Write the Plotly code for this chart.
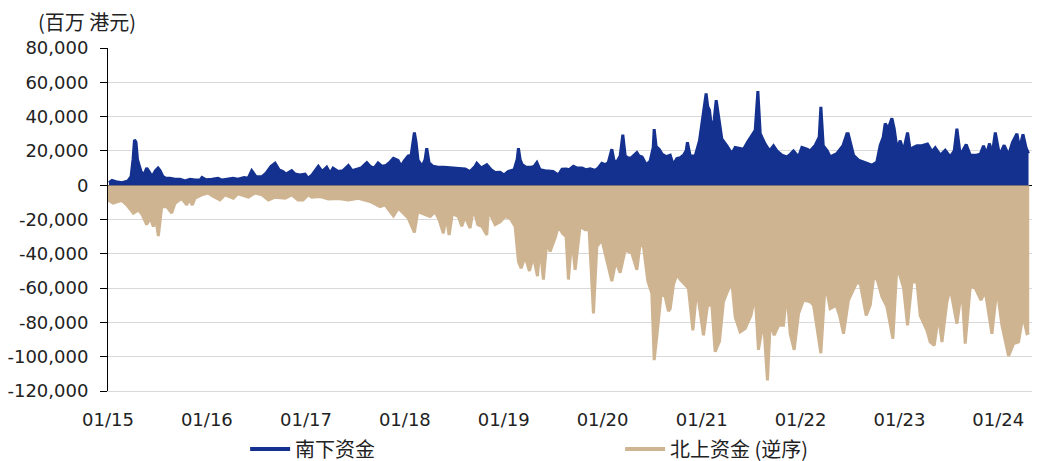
import numpy as np
import pandas as pd
import plotly.graph_objects as go

# ---------------- data (HK$ mn) ----------------
# time stamps as decimal years
south_year = [
    2015.010, 2015.040, 2015.081, 2015.142, 2015.202, 2015.233, 2015.253, 2015.268, 2015.283, 2015.298,
    2015.313, 2015.334, 2015.364, 2015.391, 2015.415, 2015.445, 2015.480, 2015.506, 2015.526, 2015.556,
    2015.586, 2015.627, 2015.677, 2015.728, 2015.779, 2015.829, 2015.880, 2015.930, 2015.950, 2015.991,
    2016.052, 2016.112, 2016.153, 2016.213, 2016.264, 2016.314, 2016.375, 2016.416, 2016.453, 2016.496,
    2016.557, 2016.598, 2016.648, 2016.689, 2016.729, 2016.769, 2016.800, 2016.857, 2016.891, 2016.941,
    2016.992, 2017.022, 2017.063, 2017.126, 2017.164, 2017.211, 2017.245, 2017.275, 2017.326, 2017.376,
    2017.430, 2017.467, 2017.508, 2017.558, 2017.616, 2017.649, 2017.690, 2017.730, 2017.770, 2017.811,
    2017.851, 2017.885, 2017.932, 2017.963, 2017.993, 2018.033, 2018.064, 2018.084, 2018.097, 2018.114,
    2018.134, 2018.175, 2018.205, 2018.222, 2018.246, 2018.286, 2018.337, 2018.397, 2018.475, 2018.539,
    2018.610, 2018.660, 2018.711, 2018.728, 2018.772, 2018.829, 2018.873, 2018.913, 2018.964, 2019.004,
    2019.044, 2019.105, 2019.136, 2019.149, 2019.166, 2019.186, 2019.226, 2019.277, 2019.307, 2019.335,
    2019.368, 2019.419, 2019.469, 2019.499, 2019.553, 2019.590, 2019.631, 2019.661, 2019.705, 2019.742,
    2019.793, 2019.833, 2019.874, 2019.924, 2019.954, 2019.992, 2020.025, 2020.056, 2020.093, 2020.116,
    2020.147, 2020.177, 2020.204, 2020.228, 2020.258, 2020.288, 2020.346, 2020.369, 2020.399, 2020.440,
    2020.480, 2020.511, 2020.521, 2020.541, 2020.571, 2020.602, 2020.642, 2020.683, 2020.713, 2020.750,
    2020.784, 2020.817, 2020.844, 2020.857, 2020.885, 2020.935, 2020.979, 2021.013, 2021.031, 2021.046,
    2021.062, 2021.080, 2021.104, 2021.127, 2021.148, 2021.181, 2021.205, 2021.256, 2021.306, 2021.340,
    2021.380, 2021.424, 2021.464, 2021.509, 2021.542, 2021.569, 2021.593, 2021.643, 2021.687, 2021.727,
    2021.761, 2021.812, 2021.862, 2021.896, 2021.929, 2021.980, 2022.014, 2022.065, 2022.098, 2022.149,
    2022.189, 2022.206, 2022.230, 2022.270, 2022.300, 2022.368, 2022.429, 2022.469, 2022.482, 2022.536,
    2022.586, 2022.654, 2022.722, 2022.772, 2022.806, 2022.836, 2022.856, 2022.887, 2022.924, 2022.947,
    2022.975, 2023.008, 2023.041, 2023.082, 2023.109, 2023.139, 2023.177, 2023.227, 2023.284, 2023.329,
    2023.362, 2023.413, 2023.463, 2023.514, 2023.554, 2023.581, 2023.615, 2023.675, 2023.716, 2023.777,
    2023.817, 2023.850, 2023.878, 2023.911, 2023.938, 2023.969, 2024.012, 2024.059, 2024.103, 2024.143,
    2024.188, 2024.214, 2024.249, 2024.282, 2024.305,
]
south_value = [
    1500, 2800, 2000, 1500, 2500, 5000, 15000, 26500, 25000, 15000,
    12000, 8000, 6000, 10000, 8000, 5000, 8500, 10000, 8500, 5000,
    4000, 4000, 3500, 3500, 2500, 3500, 3000, 3000, 4500, 3200,
    3500, 4000, 3000, 3500, 4000, 3500, 4500, 4000, 8500, 5000,
    5000, 7000, 11000, 12800, 9000, 8000, 6500, 8500, 6500, 6000,
    6500, 4000, 6000, 11000, 8000, 10500, 7000, 10000, 8000, 8500,
    11500, 8500, 9000, 10000, 13200, 11000, 10000, 13000, 11000, 11500,
    13500, 15700, 14500, 11000, 14000, 17000, 17500, 25000, 30700, 25000,
    14600, 11000, 15000, 21600, 13000, 11000, 10500, 10500, 10000, 9800,
    9500, 8000, 11000, 12800, 10000, 11900, 9000, 7400, 7500, 6000,
    8000, 9000, 15000, 21600, 15000, 12000, 10500, 10500, 11000, 13200,
    9000, 8500, 8300, 8000, 6000, 9300, 9500, 9000, 11000, 10000,
    10000, 9000, 9500, 8600, 10000, 12800, 12000, 13000, 21000, 14000,
    14000, 17000, 29400, 17000, 15800, 16000, 19000, 17000, 16500, 11900,
    14000, 22000, 32700, 22500, 21000, 18000, 16700, 17500, 12000, 15500,
    16000, 17500, 20000, 25000, 17000, 17000, 26000, 40000, 47000, 53500,
    46000, 43800, 32000, 38000, 49600, 37000, 27000, 23000, 18500, 22000,
    21500, 21000, 25000, 29000, 32000, 54900, 30000, 24000, 20000, 23000,
    20000, 17500, 16500, 18000, 20000, 16500, 22000, 21000, 20000, 23300,
    28000, 45700, 23000, 20000, 16500, 18500, 23000, 30000, 30000, 17500,
    14600, 13200, 11700, 13600, 23300, 28000, 36000, 33000, 39000, 33000,
    21400, 26000, 20000, 30700, 20400, 22000, 23000, 23000, 24000, 19500,
    21800, 17500, 20400, 16500, 20000, 33000, 17500, 23700, 17500, 17500,
    18000, 23000, 18000, 24300, 18000, 30700, 17500, 23300, 17500, 25000,
    30000, 21400, 29600, 21400, 18500,
]

north_year = [
    2015.000, 2015.051, 2015.101, 2015.142, 2015.189, 2015.222, 2015.256, 2015.306, 2015.344, 2015.391,
    2015.425, 2015.458, 2015.485, 2015.509, 2015.543, 2015.594, 2015.644, 2015.677, 2015.745, 2015.796,
    2015.819, 2015.852, 2015.880, 2015.947, 2016.011, 2016.065, 2016.132, 2016.183, 2016.267, 2016.314,
    2016.419, 2016.486, 2016.557, 2016.621, 2016.689, 2016.790, 2016.857, 2016.921, 2016.972, 2017.025,
    2017.060, 2017.144, 2017.228, 2017.329, 2017.430, 2017.531, 2017.649, 2017.750, 2017.801, 2017.885,
    2017.935, 2018.036, 2018.097, 2018.131, 2018.205, 2018.256, 2018.306, 2018.347, 2018.390, 2018.418,
    2018.448, 2018.481, 2018.542, 2018.576, 2018.610, 2018.660, 2018.694, 2018.738, 2018.779, 2018.829,
    2018.845, 2018.913, 2018.964, 2019.014, 2019.065, 2019.115, 2019.149, 2019.176, 2019.216, 2019.260,
    2019.300, 2019.341, 2019.368, 2019.401, 2019.436, 2019.469, 2019.520, 2019.553, 2019.594, 2019.631,
    2019.654, 2019.689, 2019.722, 2019.772, 2019.823, 2019.863, 2019.907, 2019.941, 2019.992, 2020.042,
    2020.093, 2020.133, 2020.177, 2020.228, 2020.295, 2020.346, 2020.379, 2020.413, 2020.457, 2020.497,
    2020.521, 2020.548, 2020.592, 2020.632, 2020.665, 2020.683, 2020.716, 2020.750, 2020.784, 2020.834,
    2020.867, 2020.912, 2020.952, 2021.019, 2021.060, 2021.104, 2021.137, 2021.181, 2021.221, 2021.262,
    2021.306, 2021.340, 2021.390, 2021.441, 2021.499, 2021.542, 2021.575, 2021.626, 2021.666, 2021.694,
    2021.734, 2021.778, 2021.828, 2021.862, 2021.896, 2021.936, 2021.980, 2022.030, 2022.098, 2022.132,
    2022.206, 2022.250, 2022.300, 2022.361, 2022.395, 2022.435, 2022.485, 2022.570, 2022.604, 2022.664,
    2022.705, 2022.738, 2022.772, 2022.823, 2022.874, 2022.934, 2022.975, 2023.042, 2023.082, 2023.126,
    2023.177, 2023.210, 2023.278, 2023.311, 2023.352, 2023.395, 2023.430, 2023.480, 2023.514, 2023.581,
    2023.631, 2023.665, 2023.716, 2023.766, 2023.824, 2023.868, 2023.935, 2023.986, 2024.036, 2024.103,
    2024.154, 2024.204, 2024.249, 2024.289, 2024.312,
]
# northbound turnover (plotted in reverse order, i.e. below zero)
north_value = [
    8600, 10500, 9500, 9000, 11500, 14000, 16300, 14400, 17000, 23000,
    19000, 24000, 20000, 29600, 12500, 12500, 16300, 10500, 7600, 11500,
    8000, 11500, 7600, 5600, 4600, 6600, 8600, 5600, 7600, 5000,
    7000, 4600, 5600, 8600, 7000, 7600, 5600, 8600, 8600, 5600,
    7000, 6600, 8000, 7800, 8600, 7600, 9500, 12500, 11500, 17900,
    13400, 19300, 27600, 15400, 17300, 18300, 15400, 20200, 28000, 18000,
    29000, 16500, 18300, 24000, 18300, 25000, 13400, 23000, 24000, 29000,
    14600, 23000, 21400, 18300, 19300, 24000, 44500, 48400, 41600, 50000,
    41600, 53000, 36000, 55000, 32700, 38700, 30700, 24000, 28000, 30000,
    55000, 30700, 49400, 24000, 26000, 26000, 74700, 35800, 31900, 44500,
    56000, 44500, 51000, 37700, 39700, 49400, 34000, 36000, 56000, 63000,
    102000, 88000, 63000, 65000, 73500, 72000, 58000, 52000, 55000, 58000,
    60000, 84600, 60000, 87500, 70000, 70000, 97000, 91000, 68000, 62000,
    56500, 77000, 85600, 83600, 76000, 64000, 96000, 79000, 113800, 80000,
    87500, 81700, 81700, 62000, 86600, 96000, 75000, 67000, 68000, 70000,
    98000, 57000, 72000, 70000, 76000, 86600, 67000, 56500, 57500, 76000,
    70000, 54500, 54500, 65000, 71000, 89500, 46700, 60000, 81700, 56500,
    56500, 76000, 84600, 91400, 93400, 76000, 91400, 68000, 60000, 80700,
    60000, 92400, 59000, 60000, 67000, 62000, 86600, 60000, 81700, 99600,
    92400, 91400, 76000, 86600, 86000,
]

series_names = ["南下资金", "北上资金 (逆序)"]
series_colors = ["#14318f", "#cfb491"]

y_tick_values = [80000, 60000, 40000, 20000, 0, -20000, -40000, -60000, -80000, -100000, -120000]
y_tick_labels = ["80,000", "60,000", "40,000", "20,000", "0", "-20,000", "-40,000",
                 "-60,000", "-80,000", "-100,000", "-120,000"]
x_tick_dates = ["2015-01-01", "2016-01-01", "2017-01-01", "2018-01-01", "2019-01-01",
                "2020-01-01", "2021-01-01", "2022-01-01", "2023-01-01", "2024-01-01"]
x_tick_labels = ["01/15", "01/16", "01/17", "01/18", "01/19", "01/20", "01/21", "01/22", "01/23", "01/24"]
unit_label = "(百万 港元)"

assert len(south_year) == len(south_value), (len(south_year), len(south_value))
assert len(north_year) == len(north_value), (len(north_year), len(north_value))


def to_dates(years):
    y = np.asarray(years, dtype=float)
    base = pd.Timestamp("2015-01-01")
    return base + pd.to_timedelta((y - 2015.0) * 365.25, unit="D")


south_dates = to_dates(south_year)
north_dates = to_dates(north_year)

fig = go.Figure()
fig.add_trace(go.Scatter(
    x=north_dates, y=[-v for v in north_value], name=series_names[1],
    mode="lines", line=dict(color=series_colors[1], width=3),
    fill="tozeroy", fillcolor=series_colors[1], showlegend=False,
))
fig.add_trace(go.Scatter(
    x=south_dates, y=south_value, name=series_names[0],
    mode="lines", line=dict(color=series_colors[0], width=3),
    fill="tozeroy", fillcolor=series_colors[0], showlegend=False,
))
# legend entries drawn as line keys, as in the original
for name, color in zip(series_names, series_colors):
    fig.add_trace(go.Scatter(
        x=[None], y=[None], name=name, mode="lines",
        line=dict(color=color, width=4), showlegend=True,
    ))

tick_font = dict(family="DejaVu Sans", size=18, color="#222222")
cjk_font = "Noto Sans CJK SC"

# the page body adds an 8 px offset on the top and left; margins compensate
fig.update_layout(
    width=1040, height=461,
    margin=dict(l=100, r=8, t=40, b=78, autoexpand=False),
    paper_bgcolor="white", plot_bgcolor="white",
    showlegend=True,
    legend=dict(
        orientation="h", xref="container", yref="container",
        x=0.228, xanchor="left", y=0.0434, yanchor="middle",
        font=dict(family=cjk_font, size=20, color="#222222"),
        itemwidth=40,
        entrywidth=320, entrywidthmode="pixels",
        traceorder="normal", bgcolor="rgba(0,0,0,0)",
    ),
    xaxis=dict(
        type="date", range=["2015-01-01", "2024-06-03"],
        tickvals=x_tick_dates, ticktext=x_tick_labels,
        showgrid=False, zeroline=False, automargin=False,
        showline=True, linecolor="#d9d9d9", linewidth=1,
        ticks="", tickfont=tick_font, ticklabelstandoff=12,
    ),
    yaxis=dict(
        range=[-120000, 80000], automargin=False,
        tickvals=y_tick_values, ticktext=y_tick_labels,
        showgrid=True, gridcolor="#d9d9d9", gridwidth=1,
        zeroline=True, zerolinecolor="#000000", zerolinewidth=1,
        showline=True, linecolor="#000000", linewidth=1,
        ticks="outside", ticklen=7, tickcolor="#000000", tickwidth=1,
        tickfont=tick_font, ticklabelstandoff=8,
    ),
    annotations=[dict(
        text=unit_label, xref="paper", yref="paper",
        x=-0.077, y=1.076, xanchor="left", yanchor="middle",
        showarrow=False, font=dict(family=cjk_font, size=20, color="#222222"),
    )],
)

fig.write_html("out.html")
